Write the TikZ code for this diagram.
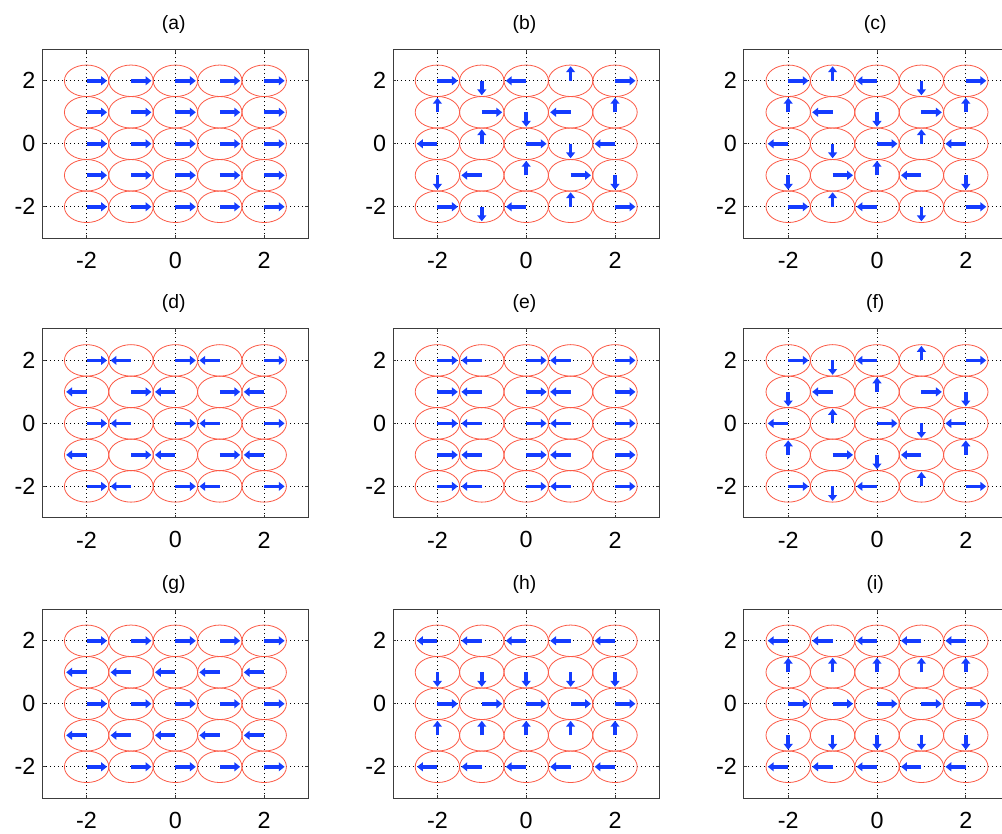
\documentclass[tikz,border=0pt]{standalone}
\usepackage{fontspec}
\setmainfont{Liberation Sans}
\usetikzlibrary{arrows.meta}
\definecolor{spinblue}{RGB}{20,60,255}
\definecolor{ringred}{RGB}{252,90,70}
\definecolor{boxgray}{RGB}{60,60,60}
\pgfkeys{/spin/R/.initial=0,/spin/U/.initial=90,/spin/L/.initial=180,/spin/D/.initial=270}
\tikzset{
  gridline/.style={black, line width=0.5pt, dash pattern=on 0.75pt off 2.25pt},
  panelbox/.style={boxgray, line width=0.75pt},
  tickmark/.style={boxgray, line width=0.6pt},
  ring/.style={ringred, line width=0.6pt},
  spinarrow/.style={spinblue, line width=2.7pt, -{Triangle[length=4.4pt,width=6.6pt]}},
  ticklabel/.style={inner sep=0pt, font=\fontsize{17.5}{19}\selectfont},
  paneltitle/.style={inner sep=0pt, font=\fontsize{14.5}{16}\selectfont}
}
\newcommand\spinrow[2]{%
  \foreach \dd [count=\ii] in {#2} {%
    \pgfkeysgetvalue{/spin/\dd}{\ang}%
    \draw[spinarrow] (\ii-3,#1) -- ++(\ang:0.46);
  }}
\newcommand\spinpanel[8]{%
  \begin{scope}[shift={(#1,#2)},x=33.3pt,y=23.625pt]
    \foreach \g in {-2,0,2} {
      \draw[gridline] (\g,-3) -- (\g,3);
      \draw[gridline] (-3,\g) -- (3,\g);
    }
    \draw[panelbox] (-3,-3) rectangle (3,3);
    \foreach \g in {-2,0,2} {
      \draw[tickmark] (\g,-3) -- ++(0,2.5pt);
      \draw[tickmark] (\g,3) -- ++(0,-2.5pt);
      \draw[tickmark] (-3,\g) -- ++(2.5pt,0);
      \draw[tickmark] (3,\g) -- ++(-2.5pt,0);
    }
    \foreach \px in {-2,...,2} {
      \foreach \py in {-2,...,2} {
        \draw[ring] (\px,\py) circle[radius=0.5];
      }
    }
    \spinrow{2}{#4}
    \spinrow{1}{#5}
    \spinrow{0}{#6}
    \spinrow{-1}{#7}
    \spinrow{-2}{#8}
    \node[paneltitle] (title#3) at (-0.04,3.8) {(#3)};
    \foreach \g in {-2,0,2} {
      \node[ticklabel, anchor=center] (xt#3\g) at (\g,-3.7) {\g};
      \node[ticklabel, anchor=east] (yt#3\g) at (-3.15,\g) {\g};
    }
  \end{scope}}
\begin{document}
\begin{tikzpicture}
  \useasboundingbox (0,0) rectangle (751.5pt,625.5pt);
  \clip (0,0) rectangle (751.5pt,625.5pt);
  \fill[white] (0,0) rectangle (751.5pt,625.5pt);
  % row 1
  \spinpanel{131.55pt}{517.65pt}{a}{R,R,R,R,R}{R,R,R,R,R}{R,R,R,R,R}{R,R,R,R,R}{R,R,R,R,R}
  \spinpanel{394.65pt}{517.65pt}{b}{R,D,L,U,R}{U,R,D,L,U}{L,U,R,D,L}{D,L,U,R,D}{R,D,L,U,R}
  \spinpanel{657.75pt}{517.65pt}{c}{R,U,L,D,R}{U,L,D,R,U}{L,D,R,U,L}{D,R,U,L,D}{R,U,L,D,R}
  % row 2
  \spinpanel{131.55pt}{307.95pt}{d}{R,L,R,L,R}{L,R,L,R,L}{R,L,R,L,R}{L,R,L,R,L}{R,L,R,L,R}
  \spinpanel{394.65pt}{307.95pt}{e}{R,L,R,L,R}{R,L,R,L,R}{R,L,R,L,R}{R,L,R,L,R}{R,L,R,L,R}
  \spinpanel{657.75pt}{307.95pt}{f}{R,D,L,U,R}{D,L,U,R,D}{L,U,R,D,L}{U,R,D,L,U}{R,D,L,U,R}
  % row 3
  \spinpanel{131.55pt}{97.65pt}{g}{R,R,R,R,R}{L,L,L,L,L}{R,R,R,R,R}{L,L,L,L,L}{R,R,R,R,R}
  \spinpanel{394.65pt}{97.65pt}{h}{L,L,L,L,L}{D,D,D,D,D}{R,R,R,R,R}{U,U,U,U,U}{L,L,L,L,L}
  \spinpanel{657.75pt}{97.65pt}{i}{L,L,L,L,L}{U,U,U,U,U}{R,R,R,R,R}{D,D,D,D,D}{L,L,L,L,L}
\end{tikzpicture}
\end{document}
